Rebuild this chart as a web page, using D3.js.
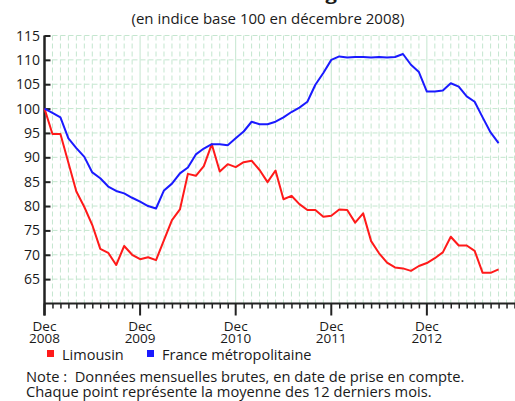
<!DOCTYPE html>
<html>
<head>
<meta charset="utf-8">
<script src="https://cdn.jsdelivr.net/npm/d3@7"></script>
<style>
  body { margin: 0; background: #fff; }
  svg { display: block; }
  text { font-family: "Open Sans", sans-serif; fill: #1a1a1a; white-space: pre; }
</style>
</head>
<body>
<div id="vis"></div>
<script>
// mois 0 = décembre 2008, 57 = septembre 2013
const limousin = [100, 94.8, 94.8, 88.9, 83.0, 79.8, 76.1, 71.2, 70.4, 67.9,
  71.8, 70.0, 69.1, 69.5, 68.9, 73.0, 77.1, 79.3, 86.6, 86.2,
  88.2, 92.7, 87.1, 88.6, 88.0, 89.0, 89.3, 87.4, 84.9, 87.3,
  81.4, 82.1, 80.4, 79.2, 79.2, 77.8, 78.0, 79.3, 79.2, 76.6,
  78.5, 72.8, 70.3, 68.4, 67.4, 67.2, 66.7, 67.7, 68.3, 69.3,
  70.5, 73.7, 71.9, 71.9, 70.8, 66.3, 66.3, 67.0];
const france = [100, 99.1, 98.2, 93.9, 91.9, 90.1, 86.9, 85.7, 84.0, 83.1,
  82.6, 81.7, 80.9, 80.0, 79.5, 83.2, 84.6, 86.7, 87.9, 90.6,
  91.8, 92.7, 92.7, 92.5, 93.9, 95.3, 97.3, 96.8, 96.8, 97.3,
  98.2, 99.3, 100.2, 101.4, 104.9, 107.3, 110.0, 110.7, 110.5, 110.6,
  110.6, 110.5, 110.6, 110.5, 110.6, 111.2, 109.0, 107.5, 103.5, 103.5,
  103.7, 105.2, 104.5, 102.5, 101.4, 98.2, 95.1, 92.9];
const tickMonths = [0, 12, 24, 36, 48];
const tickLabels = [["Dec", "2008"], ["Dec", "2009"], ["Dec", "2010"], ["Dec", "2011"], ["Dec", "2012"]];
const yTicks = [65, 70, 75, 80, 85, 90, 95, 100, 105, 110, 115];
const seriesNames = ["Limousin", "France métropolitaine"];
const seriesColors = ["#ff1a1a", "#1a1aff"];

const width = 515, height = 401;
const SVG = d3.select("#vis").append("svg")
  .attr("width", width)
  .attr("height", height);

const x = d3.scaleLinear().domain([0, 59]).range([44.5, 514.5]);
const y = d3.scaleLinear().domain([60, 115]).range([303.5, 35.5]);

// titre coupé en haut
SVG.append("text")
  .attr("x", 60).attr("y", -0.5)
  .attr("textLength", 452).attr("lengthAdjust", "spacingAndGlyphs")
  .style("font-size", "16px").style("font-weight", "bold")
  .text("Évolution du nombre de logements autorisés");

SVG.append("text")
  .attr("x", 268).attr("y", 24)
  .attr("text-anchor", "middle")
  .style("font-size", "15px")
  .text("(en indice base 100 en décembre 2008)");

// grille
const grille = SVG.append("g");
grille.selectAll("line.v")
  .data(d3.range(1, 60))
  .join("line")
  .attr("x1", d => x(d)).attr("x2", d => x(d))
  .attr("y1", y(115)).attr("y2", y(60))
  .attr("stroke", "#c4e6cf")
  .attr("stroke-width", 1)
  .attr("stroke-dasharray", d => d % 12 === 0 ? null : "5,3");
grille.selectAll("line.h")
  .data(yTicks)
  .join("line")
  .attr("x1", x(0)).attr("x2", width)
  .attr("y1", d => y(d)).attr("y2", d => y(d))
  .attr("stroke", "#c4e6cf")
  .attr("stroke-width", 1)
  .attr("stroke-dasharray", "5,3");

// axes
const axeX = SVG.append("g")
  .attr("transform", `translate(0, ${y(60)})`)
  .call(d3.axisBottom(x)
    .tickValues(d3.range(1, 60).filter(d => d % 12 !== 0))
    .tickSize(5).tickFormat(""));
axeX.select(".domain").attr("stroke", "#222").attr("stroke-width", 2).attr("d", `M${x(0)},0H${width}`);
axeX.selectAll(".tick line").attr("stroke", "#222").attr("stroke-width", 1.5);

const majeurs = SVG.append("g").attr("transform", `translate(0, ${y(60)})`);
majeurs.selectAll("line")
  .data(tickMonths)
  .join("line")
  .attr("x1", d => x(d)).attr("x2", d => x(d))
  .attr("y1", 0).attr("y2", 12)
  .attr("stroke", "#222").attr("stroke-width", 2);

const labels = SVG.append("g");
labels.selectAll("text")
  .data(tickMonths)
  .join("text")
  .attr("x", d => x(d))
  .attr("text-anchor", "middle")
  .style("font-size", "13.5px")
  .each(function (d, i) {
    d3.select(this).append("tspan").attr("x", x(d)).attr("y", 331).text(tickLabels[i][0]);
    d3.select(this).append("tspan").attr("x", x(d)).attr("y", 343).text(tickLabels[i][1]);
  });

const axeY = SVG.append("g")
  .attr("transform", `translate(${x(0)}, 0)`)
  .call(d3.axisRight(y).tickValues(yTicks).tickSize(6).tickFormat(""));
axeY.select(".domain").attr("stroke", "#222").attr("stroke-width", 2.5)
  .attr("d", `M0,${y(115)}V${y(60) + 12}`);
axeY.selectAll(".tick line").attr("stroke", "#222").attr("stroke-width", 2);

SVG.append("g").selectAll("text")
  .data(yTicks)
  .join("text")
  .attr("x", 40).attr("y", d => y(d) + 5)
  .attr("text-anchor", "end")
  .style("font-size", "14px")
  .text(d => d);

// courbes
const ligne = d3.line().x((d, i) => x(i)).y(d => y(d));
[limousin, france].forEach((serie, k) => {
  SVG.append("path")
    .datum(serie)
    .attr("d", ligne)
    .attr("fill", "none")
    .attr("stroke", seriesColors[k])
    .attr("stroke-width", 2)
    .attr("stroke-linejoin", "round");
});

// légende
const legendeX = [47, 147];
const legende = SVG.append("g");
seriesNames.forEach((nom, k) => {
  legende.append("rect")
    .attr("x", legendeX[k]).attr("y", 350)
    .attr("width", 7).attr("height", 7)
    .attr("fill", seriesColors[k]);
  legende.append("text")
    .attr("x", legendeX[k] + 15).attr("y", 360)
    .style("font-size", "14.5px")
    .text(nom);
});

SVG.append("text").attr("x", 26).attr("y", 382).style("font-size", "14.7px")
  .text("Note :  Données mensuelles brutes, en date de prise en compte.");
SVG.append("text").attr("x", 26).attr("y", 397).style("font-size", "14.7px")
  .text("Chaque point représente la moyenne des 12 derniers mois.");
</script>
</body>
</html>
